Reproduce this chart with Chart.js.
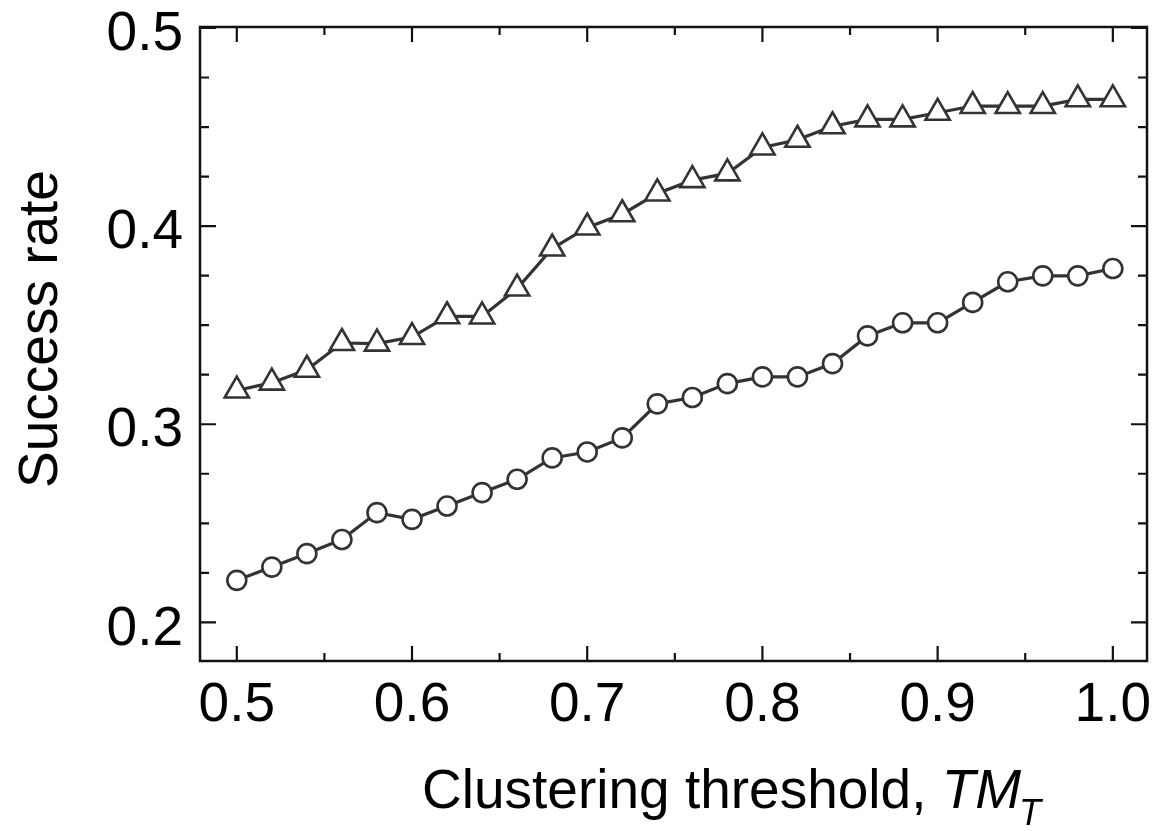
<!DOCTYPE html>
<html>
<head>
<meta charset="utf-8">
<script src="https://cdn.jsdelivr.net/npm/chart.js@4.4.1/dist/chart.umd.min.js"></script>
<style>
  html, body { margin: 0; padding: 0; background: #fff; }
  #wrap { width: 1165px; height: 831px; }
</style>
</head>
<body>
<div id="wrap"><canvas id="chartCanvas"></canvas></div>
<script>
// clustering threshold values (x)
const thresholds = [0.50, 0.52, 0.54, 0.56, 0.58, 0.60, 0.62, 0.64, 0.66, 0.68, 0.70, 0.72, 0.74,
                    0.76, 0.78, 0.80, 0.82, 0.84, 0.86, 0.88, 0.90, 0.92, 0.94, 0.96, 0.98, 1.00];
// success rate, triangle series (upper)
const triangleRates = [0.317, 0.321, 0.3275, 0.341, 0.3407, 0.344, 0.3545, 0.3544, 0.3685, 0.3887, 0.3993, 0.406, 0.4165,
                       0.4232, 0.4266, 0.4397, 0.4436, 0.4504, 0.4539, 0.4539, 0.4572, 0.4606, 0.4606, 0.4606, 0.464, 0.464];
// success rate, circle series (lower)
const circleRates = [0.2212, 0.2279, 0.2347, 0.2418, 0.2554, 0.252, 0.2587, 0.2655, 0.2722, 0.283, 0.286, 0.2931, 0.3103,
                     0.3135, 0.3205, 0.3239, 0.3239, 0.3306, 0.3446, 0.3512, 0.3512, 0.3615, 0.3719, 0.3749, 0.3749, 0.3786];
// tick labels
const xTicks = [0.5, 0.6, 0.7, 0.8, 0.9, 1.0];
const yTicks = [0.2, 0.3, 0.4, 0.5];
const xMinorTicks = [0.55, 0.65, 0.75, 0.85, 0.95];
const yMinorTicks = [0.225, 0.25, 0.275, 0.325, 0.35, 0.375, 0.425, 0.45, 0.475];

const FONT = "'Liberation Sans', Arial, Helvetica, sans-serif";
const LINE = '#333333';

function toPoints(ys) {
    return thresholds.map((x, i) => ({ x: x, y: ys[i] }));
}

// frame with inward ticks on all four sides, plus axis titles
const framePlugin = {
    id: 'frame',
    beforeDatasetsDraw(chart) {
        const ctx = chart.ctx;
        const a = chart.chartArea;
        const xs = chart.scales.x;
        const ys = chart.scales.y;
        ctx.save();
        ctx.strokeStyle = '#111';
        ctx.lineWidth = 2.5;
        ctx.strokeRect(a.left, a.top, a.right - a.left, a.bottom - a.top);
        ctx.lineWidth = 2.2;
        ctx.beginPath();
        const tick = (vals, len) => {
            vals.forEach(v => {
                const px = xs.getPixelForValue(v);
                ctx.moveTo(px, a.bottom); ctx.lineTo(px, a.bottom - len);
                ctx.moveTo(px, a.top); ctx.lineTo(px, a.top + len);
            });
        };
        const ytick = (vals, len) => {
            vals.forEach(v => {
                const py = ys.getPixelForValue(v);
                ctx.moveTo(a.left, py); ctx.lineTo(a.left + len, py);
                ctx.moveTo(a.right, py); ctx.lineTo(a.right - len, py);
            });
        };
        tick(xTicks, 15);
        tick(xMinorTicks, 8);
        ytick(yTicks, 16);
        ytick(yMinorTicks, 9);
        ctx.stroke();
        ctx.restore();
    },
    afterDraw(chart) {
        const ctx = chart.ctx;
        ctx.save();
        ctx.fillStyle = '#000';
        // y title
        ctx.translate(57, 329);
        ctx.rotate(-Math.PI / 2);
        ctx.font = '55px ' + FONT;
        ctx.textAlign = 'center';
        ctx.textBaseline = 'alphabetic';
        ctx.fillText('Success rate', 0, 0);
        ctx.restore();

        // x title with italic TM and subscript T
        ctx.save();
        ctx.fillStyle = '#000';
        ctx.textAlign = 'left';
        ctx.textBaseline = 'alphabetic';
        let x = 422;
        const base = 808;
        ctx.font = '55px ' + FONT;
        const part1 = 'Clustering threshold, ';
        ctx.fillText(part1, x, base);
        x += ctx.measureText(part1).width;
        ctx.font = 'italic 55px ' + FONT;
        ctx.fillText('TM', x, base);
        x += ctx.measureText('TM').width;
        ctx.font = 'italic 36px ' + FONT;
        ctx.fillText('T', x - 2, base + 17);
        ctx.restore();
    }
};

const ctx = document.getElementById('chartCanvas').getContext('2d');
const chart = new Chart(ctx, {
    type: 'line',
    data: {
        datasets: [
            {
                label: 'triangles',
                data: toPoints(triangleRates),
                borderColor: LINE,
                borderWidth: 3.2,
                backgroundColor: '#fff',
                pointStyle: 'triangle',
                pointRadius: 14,
                pointBorderWidth: 2.6,
                pointBorderColor: LINE,
                pointBackgroundColor: '#fff',
                tension: 0
            },
            {
                label: 'circles',
                data: toPoints(circleRates),
                borderColor: LINE,
                borderWidth: 3.2,
                backgroundColor: '#fff',
                pointStyle: 'circle',
                pointRadius: 9.5,
                pointBorderWidth: 2.6,
                pointBorderColor: LINE,
                pointBackgroundColor: '#fff',
                tension: 0
            }
        ]
    },
    options: {
        responsive: true,
        maintainAspectRatio: false,
        animation: false,
        events: [],
        layout: {
            padding: { top: 27, right: 18, left: 0, bottom: 0 }
        },
        plugins: {
            legend: { display: false },
            tooltip: { enabled: false }
        },
        scales: {
            x: {
                type: 'linear',
                min: 0.479,
                max: 1.0195,
                grid: { display: false, drawTicks: false },
                border: { display: false },
                afterBuildTicks: scale => {
                    scale.ticks = xTicks.map(v => ({ value: v }));
                },
                afterFit: scale => {
                    scale.height = 170;
                    scale.paddingLeft = 0;
                    scale.paddingRight = 0;
                },
                ticks: {
                    color: '#000',
                    font: { family: FONT, size: 55 },
                    padding: 12,
                    maxRotation: 0,
                    autoSkip: false,
                    callback: v => v.toFixed(1)
                }
            },
            y: {
                type: 'linear',
                min: 0.1805,
                max: 0.5005,
                grid: { display: false, drawTicks: false },
                border: { display: false },
                afterBuildTicks: scale => {
                    scale.ticks = yTicks.map(v => ({ value: v }));
                },
                afterFit: scale => {
                    scale.width = 200;
                    scale.paddingTop = 0;
                    scale.paddingBottom = 0;
                },
                ticks: {
                    color: '#000',
                    font: { family: FONT, size: 55 },
                    padding: 17,
                    labelOffset: 7,
                    autoSkip: false,
                    callback: v => v.toFixed(1)
                }
            }
        }
    },
    plugins: [framePlugin]
});
</script>
</body>
</html>
